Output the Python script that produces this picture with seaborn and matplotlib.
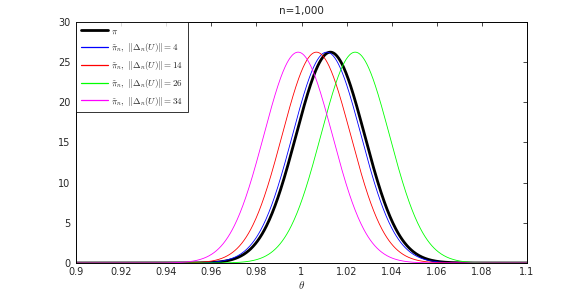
import numpy as np
import pandas as pd
import seaborn as sns
import matplotlib.pyplot as plt

# curvas de densidad (aprox. normales)
labels = [r'$\pi$',
          r'$\tilde{\pi}_n,\ \|\Delta_n(U)\| = 4$',
          r'$\tilde{\pi}_n,\ \|\Delta_n(U)\| = 14$',
          r'$\tilde{\pi}_n,\ \|\Delta_n(U)\| = 26$',
          r'$\tilde{\pi}_n,\ \|\Delta_n(U)\| = 34$']
centers = [1.0128, 1.0112, 1.0066, 1.0238, 0.9985]
widths = [0.0152, 0.0152, 0.0152, 0.0152, 0.0152]
colors = ['black', '#0000ff', '#ff0000', '#00ff00', '#ff00ff']
lw = [2.0, 0.6, 0.6, 0.6, 0.6]
xticks = [0.9, 0.92, 0.94, 0.96, 0.98, 1, 1.02, 1.04, 1.06, 1.08, 1.1]
xticklabels = ['0.9', '0.92', '0.94', '0.96', '0.98', '1', '1.02', '1.04', '1.06', '1.08', '1.1']
yticks = [0, 5, 10, 15, 20, 25, 30]

theta = np.linspace(0.9, 1.1, 801)
rows = []
for lab, m, s in zip(labels, centers, widths):
    dens = np.exp(-0.5 * ((theta - m) / s) ** 2) / (s * np.sqrt(2 * np.pi))
    rows.append(pd.DataFrame({'theta': theta, 'dens': dens, 'serie': lab}))
df = pd.concat(rows, ignore_index=True)

sns.set_style('white')
plt.rcParams['font.family'] = ['DejaVu Sans']
plt.rcParams['mathtext.fontset'] = 'cm'
fig = plt.figure(figsize=(5.82, 2.96), dpi=100)
ax = fig.add_axes([0.1306, 0.1115, 0.7749, 0.8142])

handles = []
for lab, c, w in zip(labels, colors, lw):
    sns.lineplot(data=df[df['serie'] == lab], x='theta', y='dens', color=c,
                 linewidth=w, ax=ax)
    handles.append(plt.Line2D([], [], color=c, linewidth=max(w, 0.9)))

ax.set_xlim(0.9, 1.1)
ax.set_ylim(0, 30)
ax.set_xticks(xticks)
ax.set_xticklabels(xticklabels)
ax.set_yticks(yticks)
ax.tick_params(direction='in', length=3, width=0.6, labelsize=7,
               top=True, right=True)
ax.tick_params(axis='x', pad=3)
ax.tick_params(axis='y', pad=4)
for sp in ax.spines.values():
    sp.set_color('black')
    sp.set_linewidth(0.7)
ax.set_xlabel(r'$\theta$', fontsize=8, labelpad=1)
ax.set_ylabel('')
ax.set_title('n=1,000', fontsize=7.5, pad=6)

leg = ax.legend(handles, labels, loc='upper left', fontsize=6.5, frameon=True,
                fancybox=False, borderaxespad=0, handlelength=3.0,
                handletextpad=0.4, labelspacing=0.55, borderpad=0.5)
leg.get_frame().set_edgecolor('black')
leg.get_frame().set_linewidth(0.7)

plt.savefig('out.png', dpi=100)
